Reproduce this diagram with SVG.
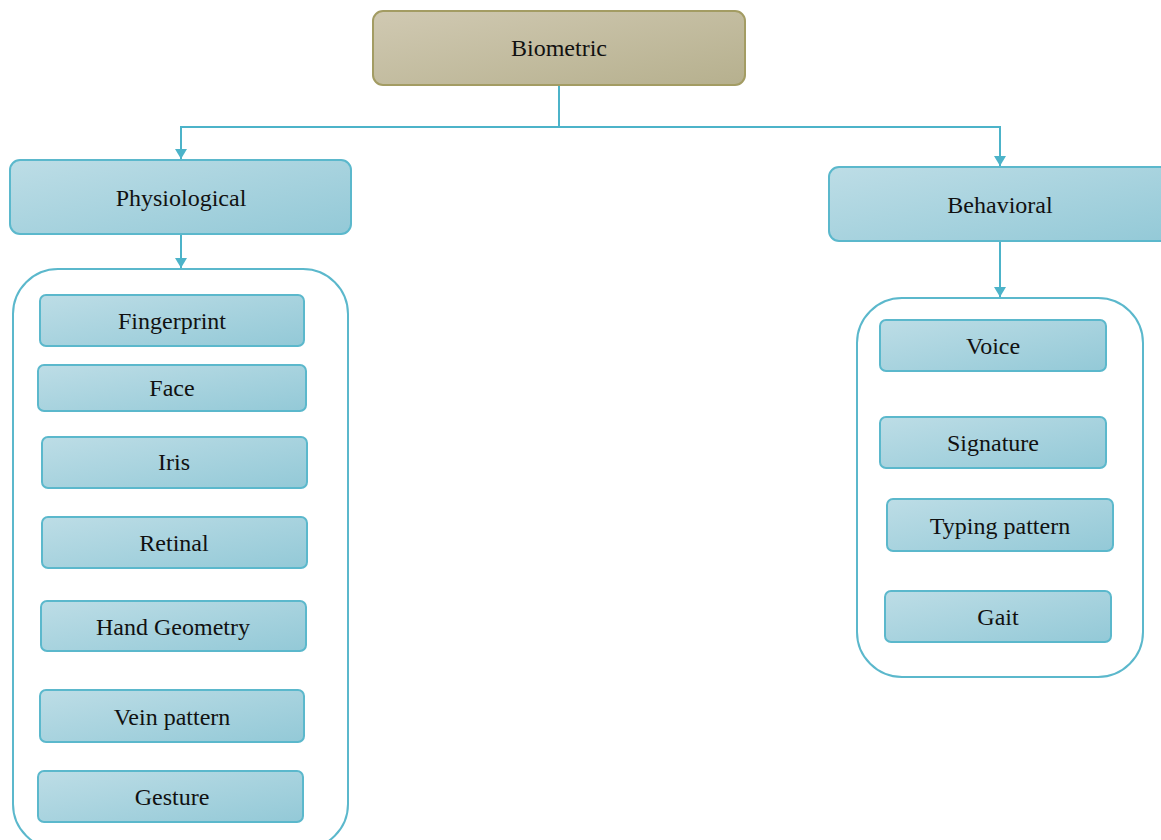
<svg xmlns="http://www.w3.org/2000/svg" width="1161" height="840" viewBox="0 0 1161 840">
<defs>
<linearGradient id="gBlue" x1="0" y1="0" x2="1" y2="1">
<stop offset="0" stop-color="#bddde6"/>
<stop offset="1" stop-color="#93c9d7"/>
</linearGradient>
<linearGradient id="gTan" x1="0" y1="0" x2="1" y2="1">
<stop offset="0" stop-color="#d0c9b2"/>
<stop offset="1" stop-color="#b6b08e"/>
</linearGradient>
<marker id="arr" viewBox="0 0 10 12" refX="10" refY="6" markerWidth="10" markerHeight="12" markerUnits="userSpaceOnUse" orient="auto">
<path d="M0,0 L10,6 L0,12 Z" fill="#4cb3c9"/>
</marker>
<style>
.n{fill:url(#gBlue);stroke:#5bb8cc;stroke-width:2}
.c{fill:none;stroke:#5bb8cc;stroke-width:2}
.t{font-family:"Liberation Serif","Times New Roman",serif;font-size:24px;fill:#111;text-anchor:middle;dominant-baseline:central}
.e{fill:none;stroke:#4cb3c9;stroke-width:2}
</style>
</defs>
<rect width="1161" height="840" fill="#fff"/>
<g id="connectors">
<path class="e" d="M559,85 V127 H181 V159" marker-end="url(#arr)"/>
<path class="e" d="M559,127 H1000 V166" marker-end="url(#arr)"/>
<path class="e" d="M181,234 V268" marker-end="url(#arr)"/>
<path class="e" d="M1000,241 V297" marker-end="url(#arr)"/>
</g>
<g id="biometric"><rect x="373" y="11" width="372" height="74" rx="10" fill="url(#gTan)" stroke="#a39c63" stroke-width="2"/><text class="t" x="559" y="48">Biometric</text></g>
<g id="physiological"><rect class="n" x="10" y="160" width="341" height="74" rx="10"/><text class="t" x="181" y="198">Physiological</text></g>
<g id="behavioral"><rect class="n" x="829" y="167" width="345" height="74" rx="10"/><text class="t" x="1000" y="205">Behavioral</text></g>
<g id="physio-group"><rect class="c" x="13" y="269" width="335" height="580" rx="45"/></g>
<g id="behav-group"><rect class="c" x="857" y="298" width="286" height="379" rx="45"/></g>
<g id="fingerprint"><rect class="n" x="40" y="295" width="264" height="51" rx="6"/><text class="t" x="172" y="321">Fingerprint</text></g>
<g id="face"><rect class="n" x="38" y="365" width="268" height="46" rx="6"/><text class="t" x="172" y="388">Face</text></g>
<g id="iris"><rect class="n" x="42" y="437" width="265" height="51" rx="6"/><text class="t" x="174" y="462">Iris</text></g>
<g id="retinal"><rect class="n" x="42" y="517" width="265" height="51" rx="6"/><text class="t" x="174" y="543">Retinal</text></g>
<g id="hand"><rect class="n" x="41" y="601" width="265" height="50" rx="6"/><text class="t" x="173" y="627">Hand Geometry</text></g>
<g id="vein"><rect class="n" x="40" y="690" width="264" height="52" rx="6"/><text class="t" x="172" y="717">Vein pattern</text></g>
<g id="gesture"><rect class="n" x="38" y="771" width="265" height="51" rx="6"/><text class="t" x="172" y="797">Gesture</text></g>
<g id="voice"><rect class="n" x="880" y="320" width="226" height="51" rx="6"/><text class="t" x="993" y="346">Voice</text></g>
<g id="signature"><rect class="n" x="880" y="417" width="226" height="51" rx="6"/><text class="t" x="993" y="443">Signature</text></g>
<g id="typing"><rect class="n" x="887" y="499" width="226" height="52" rx="6"/><text class="t" x="1000" y="526">Typing pattern</text></g>
<g id="gait"><rect class="n" x="885" y="591" width="226" height="51" rx="6"/><text class="t" x="998" y="617">Gait</text></g>
</svg>
